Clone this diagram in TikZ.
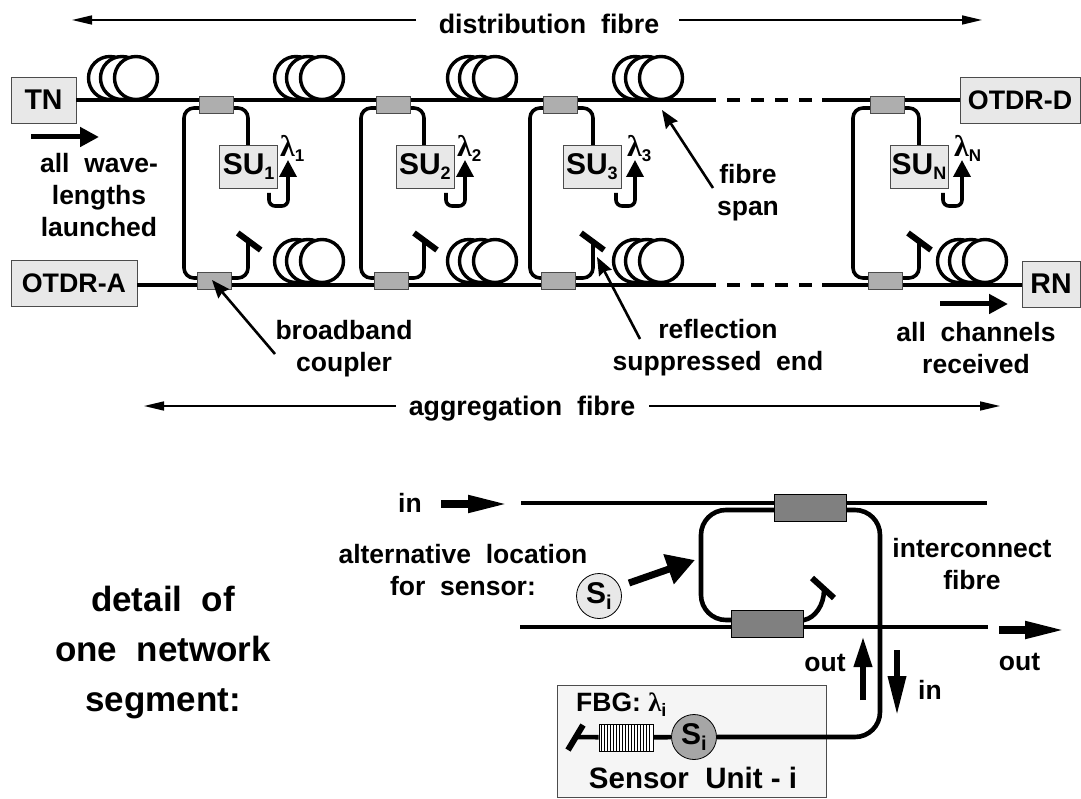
\documentclass[tikz,border=0pt]{standalone}
\usepackage{fontspec}
\setmainfont{Liberation Sans}
\newfontfamily\lamfont{Liberation Serif}
\usetikzlibrary{arrows.meta,calc}
\definecolor{boxgrey}{HTML}{E8E8E8}
\definecolor{cplgrey}{HTML}{AEAEAE}
\definecolor{cpldark}{HTML}{808080}
\definecolor{sengrey}{HTML}{A6A6A6}
\newcommand{\lamsym}{{\lamfont\bfseries λ}}
\newcommand{\subtxt}[1]{\raisebox{-5pt}{\fontsize{18}{18}\selectfont #1}}
\begin{document}
\begin{tikzpicture}[x=1pt,y=-1pt,font=\bfseries\fontsize{26.5}{32}\selectfont,
  fib/.style={line width=4.6pt},
  thinfib/.style={line width=3.6pt},
  term/.style={line width=6pt},
  lab/.style={align=center,inner sep=0pt},
  titlelab/.style={inner sep=0pt,font=\bfseries\fontsize{26.8}{32}\selectfont},
  unit/.style={rectangle,draw=black!70,fill=boxgrey,line width=0.8pt,inner sep=0pt,font=\bfseries\fontsize{30}{30}\selectfont},
  otdr/.style={unit,font=\bfseries\fontsize{26.8}{30}\selectfont},
  endbox/.style={unit,font=\bfseries\fontsize{28.5}{30}\selectfont},
  cpl/.style={rectangle,draw=black!70,fill=cplgrey,line width=0.8pt,inner sep=0pt,minimum width=34pt,minimum height=17pt},
  cpld/.style={rectangle,draw=black,fill=cpldark,line width=0.8pt,inner sep=0pt,minimum width=72pt,minimum height=27pt},
  sen/.style={circle,draw=black,line width=0.8pt,inner sep=0pt,minimum size=45pt,font=\bfseries\fontsize{30}{30}\selectfont},
  coil/.style={circle,draw=black,fill=white,line width=3.4pt,inner sep=0pt,minimum size=43pt},
  ar/.style={-{Triangle[length=20pt,width=9pt]},line width=1.6pt},
  ptr/.style={-{Stealth[length=18pt,width=14pt,inset=2pt]},line width=2.6pt},
  bigar/.style={-{Triangle[length=19pt,width=19pt]},line width=5pt},
  longar/.style={-{Triangle[length=41pt,width=16pt]},line width=7.5pt},
  lamar/.style={-{Triangle[length=17pt,width=17pt]},line width=3.6pt,rounded corners=6pt}]
\useasboundingbox (0,0) rectangle (1081,799);
% terminals
\node[endbox,minimum width=65pt,minimum height=46pt] (tn) at (43.5,100) {TN};
\node[otdr,minimum width=120pt,minimum height=46pt] (otdrd) at (1020,100) {OTDR-D};
\node[otdr,minimum width=126pt,minimum height=46pt] (otdra) at (74,283) {OTDR-A};
\node[endbox,minimum width=58pt,minimum height=46pt] (rn) at (1051,284) {RN};
\coordinate (dt1) at (716,100); \coordinate (dt2) at (822,100);
\coordinate (db1) at (716,285); \coordinate (db2) at (822,285);
% coils behind the lines
\foreach \cx/\cname in {136/a,322/b,495/c,661/d}{
  \node[coil] (ct\cname 1) at (\cx-26,78) {};
  \node[coil] (ct\cname 2) at (\cx-14,78) {};
  \node[coil] (ct\cname 3) at (\cx,78) {};
}
\foreach \cx/\cname in {322/b,495/c,661/d,985/e}{
  \node[coil] (cb\cname 1) at (\cx-26,261) {};
  \node[coil] (cb\cname 2) at (\cx-14,261) {};
  \node[coil] (cb\cname 3) at (\cx,261) {};
}
% main fibres
\draw[fib] (tn) -- (dt1); \draw[fib] (dt2) -- (otdrd);
\draw[fib] (otdra.east |- db1) -- (db1); \draw[fib] (db2) -- (rn.west |- db2);
\draw[fib,dash pattern=on 13pt off 11pt] (727,100) -- (dt2);
\draw[fib,dash pattern=on 13pt off 11pt] (727,285) -- (db2);
% sensor segments
\foreach \x/\lx/\rx/\sx/\i/\sub in {216.7/184/248/288/1/1,393/361/424/465/2/2,560/530/593/635/3/3,887/853/919/962/4/N}{
  \node[unit,minimum width=58pt,minimum height=43pt,anchor=north west] (su\i) at (\x+2.5,145) {SU\subtxt{\sub}};
  \draw[thinfib,rounded corners=10pt] (\x,108) -- (\lx,108) -- (\lx,278) -- (\x-2,278);
  \draw[thinfib,rounded corners=10pt] (\x,108) -- (\rx,108) -- (\rx,145);
  \draw[thinfib,rounded corners=10pt] (\x-2,278) -- (\rx,278) -- (\rx,243);
  \node[cpl] (ctop\i) at (\x,104.5) {};
  \node[cpl] (cbot\i) at (\x-2,281) {};
  \coordinate (tera\i) at (\x+21,233); \coordinate (terb\i) at (\x+44,250);
  \draw[term] (tera\i) -- (terb\i);
  \coordinate (lama\i) at (\sx-19,193);
  \draw[lamar] (lama\i) -- (\sx-19,206) -- (\sx,206) -- (\sx,160);
  \node[lab,anchor=base west,font=\bfseries\fontsize{30}{30}\selectfont] (lam\i) at (\sx-8,157) {\lamsym\raisebox{-5pt}{\fontsize{17}{17}\selectfont\sub}};
}
% top arrows
\node[titlelab] (dist) at (549,24) {distribution~~fibre};
\coordinate (dla) at (416,20); \coordinate (dl) at (72,20);
\coordinate (dra) at (679,20); \coordinate (dr) at (982,20);
\draw[ar] (dla) -- (dl);
\draw[ar] (dra) -- (dr);
\node[titlelab] (aggr) at (522,409) {aggregation~~fibre};
\coordinate (ala0) at (396,406); \coordinate (al) at (144,406);
\coordinate (ara0) at (649,406); \coordinate (ar2) at (1000,406);
\draw[ar] (ala0) -- (al);
\draw[ar] (ara0) -- (ar2);
% labels
\node[lab] (allw) at (99,195) {all~~wave-\\lengths\\launched};
\coordinate (awa) at (31,137); \coordinate (awb) at (99,137);
\draw[bigar] (awa) -- (awb);
\node[lab] (bbc) at (344,349) {broadband\\coupler};
\coordinate (bbt) at (212,280); \coordinate (bbs) at (275,354);
\draw[ptr] (bbs) -- (bbt);
\node[lab] (span) at (748,193) {fibre\\span};
\coordinate (spt) at (662,110); \coordinate (sps) at (713,188);
\draw[ptr] (sps) -- (spt);
\node[lab] (rse) at (718,348) {reflection\\suppressed~~end};
\coordinate (ret) at (597,257); \coordinate (res) at (640,339);
\draw[ptr] (res) -- (ret);
\node[lab] (allc) at (976,348) {all~~channels\\received};
\coordinate (aca) at (940,304); \coordinate (acb) at (1008,304);
\draw[bigar] (aca) -- (acb);
% detail
\node[lab,font=\bfseries\fontsize{35}{50}\selectfont] (detail) at (163,653) {detail~~of\\one~~network\\segment:};
\node[rectangle,draw=black!70,fill=black!4,line width=0.8pt,minimum width=269pt,minimum height=112pt] (subox) at (691.5,741) {};
\coordinate (inl) at (521,503); \coordinate (inr) at (987,503);
\coordinate (outl) at (520,627); \coordinate (outr) at (988,627);
\draw[fib] (inl) -- (inr);
\draw[fib] (outl) -- (outr);
\node[sen,fill=sengrey] (sg) at (694,737) {S\raisebox{-6pt}{\fontsize{20}{20}\selectfont i}};
\node[sen,fill=boxgrey] (sl) at (599,596) {S\raisebox{-6pt}{\fontsize{20}{20}\selectfont i}};
\node[rectangle,draw=black,line width=0.6pt,fill=white,minimum width=54pt,minimum height=27pt,inner sep=0pt] (fbg) at (626,737.5) {};
\foreach \gx in {1,...,17}{
  \draw[line width=1pt] ($(fbg.south west)+(\gx*3,0)$) -- ($(fbg.north west)+(\gx*3,0)$);
}
\coordinate (dsa) at (583,725); \coordinate (dsb) at (568,750); \coordinate (dsc) at (576,737);
\draw[term] (dsa) -- (dsb);
\draw[fib] (dsc) -- (fbg); \draw[fib] (fbg) -- (sg);
\draw[fib,rounded corners=25pt] (sg) -- (880,737) -- (880,510) -- (810,510);
\draw[fib,rounded corners=25pt] (810,510) -- (701,510) -- (701,620) -- (767,620);
\coordinate (dstub) at (824,590); \coordinate (dta) at (812,578); \coordinate (dtb) at (834,598);
\draw[fib] (767,620) -- (804,620) .. controls (815,618) and (824,605) .. (dstub);
\draw[term] (dta) -- (dtb);
\node[cpld] (dtop) at (810.5,508) {};
\node[cpld] (dbot) at (767.5,623.5) {};
\node[lab,anchor=west] (dfbg) at (576,705) {FBG: \lamsym\subtxt{i}};
\node[lab,font=\bfseries\fontsize{29.5}{32}\selectfont] (sulab) at (693,778) {Sensor~~Unit - i};
\node[lab] (lin) at (410,503) {in};
\coordinate (ina) at (441,504); \coordinate (inb) at (509,504);
\draw[longar] (ina) -- (inb);
\node[lab] (lalt) at (463,570) {alternative~~location\\for~~sensor:};
\coordinate (ala) at (629,583); \coordinate (alb) at (695,560);
\draw[-{Triangle[length=28pt,width=30pt]},line width=7pt] (ala) -- (alb);
\node[lab] (lint) at (972,564) {interconnect\\fibre};
\node[lab] (lout) at (1019.5,662) {out};
\coordinate (oa) at (999,630); \coordinate (ob) at (1066,630);
\draw[longar] (oa) -- (ob);
\node[lab] (loutb) at (825,663) {out};
\coordinate (ua) at (863,700); \coordinate (ub) at (863,636);
\draw[-{Triangle[length=31pt,width=17pt]},line width=6.5pt] (ua) -- (ub);
\coordinate (da) at (897,650); \coordinate (dbb) at (897,716);
\draw[-{Triangle[length=40pt,width=17pt]},line width=6.5pt] (da) -- (dbb);
\node[lab] (linb) at (930,690) {in};
\end{tikzpicture}
\end{document}
